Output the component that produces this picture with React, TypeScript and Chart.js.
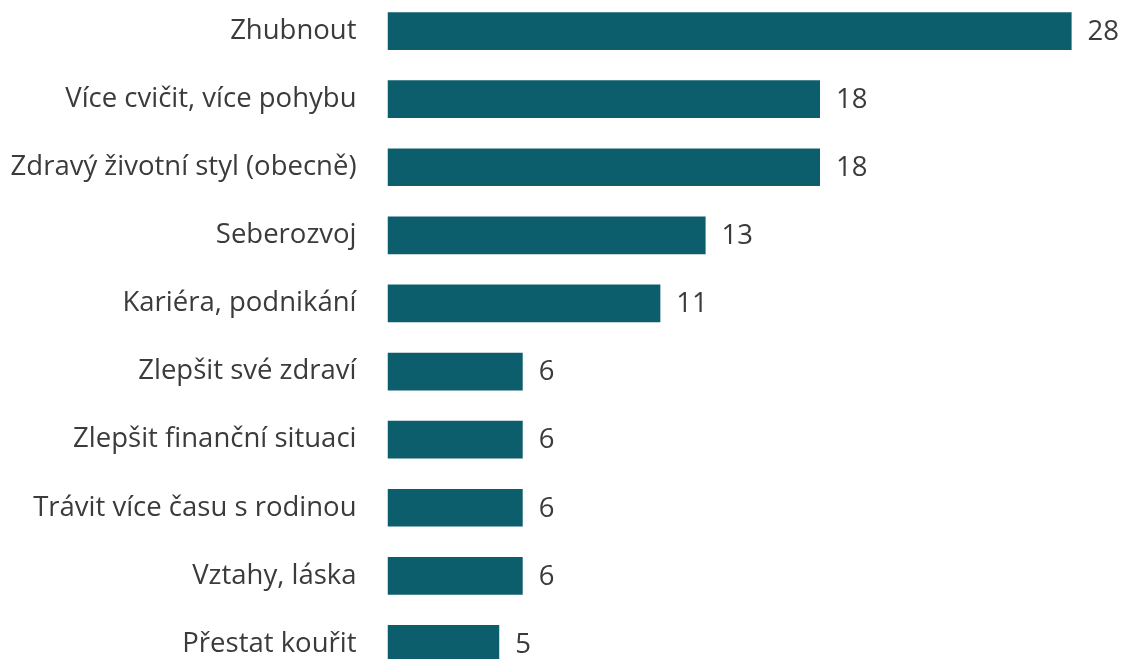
import React, { useEffect, useRef } from "react";
import { Chart, registerables } from "chart.js";

Chart.register(...registerables);

const categories: string[] = [
  "Zhubnout",
  "Více cvičit, více pohybu",
  "Zdravý životní styl (obecně)",
  "Seberozvoj",
  "Kariéra, podnikání",
  "Zlepšit své zdraví",
  "Zlepšit finanční situaci",
  "Trávit více času s rodinou",
  "Vztahy, láska",
  "Přestat kouřit",
];

const values: number[] = [27.98, 17.69, 17.69, 13.01, 11.16, 5.53, 5.53, 5.53, 5.53, 4.57];

const BAR_COLOR = "#0d5e6c";
const TEXT_COLOR = "#3b3b3b";
const FONT_FAMILY = "'Open Sans', 'Noto Sans', sans-serif";
const FONT_SIZE = 27.5;

const valueLabels = {
  id: "valueLabels",
  afterDatasetsDraw(chart: any) {
    const ctx = chart.ctx;
    const meta = chart.getDatasetMeta(0);
    const data = chart.data.datasets[0].data as number[];
    ctx.save();
    ctx.font = `${FONT_SIZE}px ${FONT_FAMILY}`;
    ctx.fillStyle = TEXT_COLOR;
    ctx.textAlign = "left";
    ctx.textBaseline = "middle";
    meta.data.forEach((el: any, i: number) => {
      ctx.fillText(String(Math.round(data[i])), el.x + 16, el.y + 1);
    });
    ctx.restore();
  },
};

export default function App() {
  const ref = useRef<HTMLCanvasElement | null>(null);

  useEffect(() => {
    if (!ref.current) return;
    const chart = new Chart(ref.current, {
      type: "bar",
      data: {
        labels: categories,
        datasets: [
          {
            data: values,
            backgroundColor: BAR_COLOR,
            borderWidth: 0,
            categoryPercentage: 1,
            barPercentage: 0.553,
          },
        ],
      },
      options: {
        indexAxis: "y",
        animation: false,
        responsive: false,
        maintainAspectRatio: false,
        layout: { padding: 0 },
        plugins: {
          legend: { display: false },
          tooltip: { enabled: false },
        },
        scales: {
          x: {
            display: false,
            min: 0,
            max: 30,
          },
          y: {
            grid: { display: false, drawTicks: false },
            border: { display: false },
            ticks: {
              padding: 31,
              color: TEXT_COLOR,
              font: { family: FONT_FAMILY, size: FONT_SIZE },
            },
            afterFit(scale: any) {
              scale.width = 387.5;
              scale.paddingTop = 0;
              scale.paddingBottom = 0;
            },
          },
        },
      },
      plugins: [valueLabels],
    });
    return () => chart.destroy();
  }, []);

  return (
    <div
      style={{
        position: "fixed",
        left: 0,
        top: 0,
        width: 1121,
        height: 659,
        overflow: "hidden",
        background: "#ffffff",
      }}
    >
      <canvas
        ref={ref}
        width={1121}
        height={681}
        style={{ position: "absolute", left: 0, top: -2.6, width: 1121, height: 681 }}
      />
    </div>
  );
}
